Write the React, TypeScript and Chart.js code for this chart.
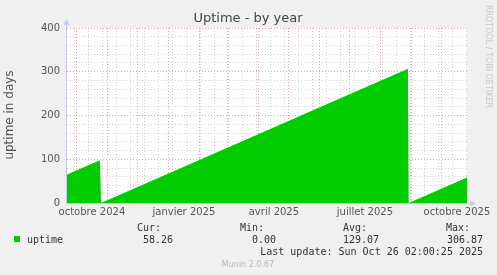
import React, { useEffect, useRef } from "react";
import { Chart, registerables } from "chart.js";

Chart.register(...registerables);

// ---- data ----
const GRAPH_END = "2025-10-26T02:00:25";
const RANGE_DAYS = 400;
const sampleTimes = [
  "2024-09-21T02:00:25",
  "2024-10-24T00:00:00",
  "2024-10-25T03:00:00",
  "2025-08-28T00:00:00",
  "2025-08-28T19:45:00",
  "2025-10-26T02:00:25",
];
const uptimeValues = [65.0, 97.9, 0, 306.87, 0, 58.26];
const xLabelTimes = ["2024-10-16", "2025-01-16", "2025-04-16", "2025-07-16", "2025-10-16"];
const xLabelTexts = ["octobre 2024", "janvier 2025", "avril 2025", "juillet 2025", "octobre 2025"];
const monthStarts = [
  "2024-10-01", "2024-11-01", "2024-12-01", "2025-01-01", "2025-02-01", "2025-03-01",
  "2025-04-01", "2025-05-01", "2025-06-01", "2025-07-01", "2025-08-01", "2025-09-01", "2025-10-01",
];
const minorStart = "2024-09-29";
const minorStepDays = 14;
const yMax = 400;
const yMinorStep = 20;
const yMajorStep = 100;
const seriesName = "uptime";
const statHeaders = ["Cur:", "Min:", "Avg:", "Max:"];
const statValues = ["58.26", "0.00", "129.07", "306.87"];
const lastUpdate = "Last update: Sun Oct 26 02:00:25 2025";
const titleText = "Uptime - by year";
const yTitle = "uptime in days";
const watermark = "RRDTOOL / TOBI OETIKER";
const footer = "Munin 2.0.67";

const endMs = Date.parse(GRAPH_END + "Z");
const startMs = endMs - RANGE_DAYS * 86400000;
const toDay = (s: string) => (Date.parse((s.length === 10 ? s + "T00:00:00" : s) + "Z") - startMs) / 86400000;

const GREEN = "#00cc00";
const RED_GRID = "rgba(230,150,150,0.85)";
const GREY_GRID = "rgba(195,195,195,0.75)";
const AXIS = "#c8c8f8";

export default function App() {
  const ref = useRef<HTMLCanvasElement | null>(null);

  useEffect(() => {
    document.body.style.margin = "0";
    const canvas = ref.current!;
    const points = sampleTimes.map((t, i) => ({ x: toDay(t), y: uptimeValues[i] }));

    const kind = new Map<number, string>();
    const labelText = new Map<number, string>();
    for (let d = toDay(minorStart); d < RANGE_DAYS; d += minorStepDays) kind.set(d, "minor");
    monthStarts.forEach((m) => kind.set(toDay(m), "major"));
    xLabelTimes.forEach((m, i) => {
      const v = toDay(m);
      kind.set(v, "label");
      labelText.set(v, xLabelTexts[i]);
    });

    const bgPlugin = {
      id: "bg",
      beforeDraw(chart: any) {
        const { ctx, chartArea: a } = chart;
        ctx.save();
        ctx.fillStyle = "#f0f0f0";
        ctx.fillRect(0, 0, chart.width, chart.height);
        ctx.fillStyle = "#ffffff";
        ctx.fillRect(a.left, a.top, a.right - a.left, a.bottom - a.top);
        ctx.restore();
      },
      afterDraw(chart: any) {
        const { ctx, chartArea: a } = chart;
        ctx.save();
        ctx.strokeStyle = AXIS;
        ctx.fillStyle = AXIS;
        ctx.lineWidth = 1;
        ctx.beginPath();
        ctx.moveTo(a.left - 0.5, a.bottom + 0.5);
        ctx.lineTo(a.left - 0.5, a.top - 4);
        ctx.moveTo(a.left - 0.5, a.bottom + 0.5);
        ctx.lineTo(a.right + 4, a.bottom + 0.5);
        ctx.stroke();
        ctx.beginPath();
        ctx.moveTo(a.left - 3.5, a.top - 3);
        ctx.lineTo(a.left + 2.5, a.top - 3);
        ctx.lineTo(a.left - 0.5, a.top - 9);
        ctx.closePath();
        ctx.fill();
        ctx.beginPath();
        ctx.moveTo(a.right + 3, a.bottom - 2.5);
        ctx.lineTo(a.right + 3, a.bottom + 3.5);
        ctx.lineTo(a.right + 9, a.bottom + 0.5);
        ctx.closePath();
        ctx.fill();

        ctx.fillStyle = "#444";
        ctx.font = "13px 'DejaVu Sans'";
        ctx.textAlign = "center";
        ctx.textBaseline = "middle";
        ctx.fillText(titleText, 248, 19);

        ctx.save();
        ctx.translate(10, 115);
        ctx.rotate(-Math.PI / 2);
        ctx.font = "12px 'DejaVu Sans'";
        ctx.fillStyle = "#555";
        ctx.fillText(yTitle, 0, 0);
        ctx.restore();

        ctx.save();
        ctx.translate(488, 5);
        ctx.rotate(Math.PI / 2);
        ctx.font = "8px 'DejaVu Sans'";
        ctx.fillStyle = "#c8c8c8";
        ctx.textAlign = "left";
        ctx.fillText(watermark, 0, 0);
        ctx.restore();

        ctx.fillStyle = GREEN;
        ctx.fillRect(14, 236, 6, 6);
        ctx.font = "10px 'DejaVu Sans Mono'";
        ctx.fillStyle = "#333";
        ctx.textAlign = "left";
        ctx.fillText(seriesName, 27, 240);
        const colRight = [161, 264, 367, 470];
        const valRight = [173, 276, 379, 483];
        ctx.textAlign = "right";
        statHeaders.forEach((h, i) => ctx.fillText(h, colRight[i], 228));
        statValues.forEach((v, i) => ctx.fillText(v, valRight[i], 240));
        ctx.fillText(lastUpdate, 483, 252);
        ctx.textAlign = "center";
        ctx.font = "8px 'DejaVu Sans'";
        ctx.fillStyle = "#bbb";
        ctx.fillText(footer, 248, 265);
        ctx.restore();
      },
    };

    const chart = new Chart(canvas, {
      type: "line",
      data: {
        datasets: [
          {
            label: seriesName,
            data: points,
            borderWidth: 0,
            borderColor: GREEN,
            backgroundColor: GREEN,
            fill: "origin",
            pointRadius: 0,
            tension: 0,
          },
        ],
      },
      options: {
        responsive: false,
        animation: false,
        events: [],
        layout: { padding: { left: 0, right: 30, top: 28, bottom: 52 } },
        plugins: { legend: { display: false }, tooltip: { enabled: false } },
        scales: {
          x: {
            type: "linear",
            min: 0,
            max: RANGE_DAYS,
            z: 1,
            border: { display: false, dash: [1, 2] },
            afterFit: (s: any) => {
              s.height = 20;
            },
            afterBuildTicks: (s: any) => {
              s.ticks = Array.from(kind.keys())
                .filter((v) => v >= 0 && v <= RANGE_DAYS)
                .sort((a, b) => a - b)
                .map((v) => ({ value: v }));
            },
            grid: {
              drawTicks: false,
              lineWidth: 1,
              color: (c: any) => {
                const k = kind.get(c.tick?.value);
                return k === "major" ? RED_GRID : k === "minor" ? GREY_GRID : "rgba(0,0,0,0)";
              },
            },
            ticks: {
              autoSkip: false,
              maxRotation: 0,
              padding: 3,
              color: "#555",
              font: { family: "DejaVu Sans", size: 10 },
              callback: (v: any) => labelText.get(v) ?? "",
            },
          },
          y: {
            min: 0,
            max: yMax,
            z: 1,
            border: { display: false, dash: [1, 2] },
            afterFit: (s: any) => {
              s.width = 67;
            },
            grid: {
              drawTicks: false,
              lineWidth: 1,
              color: (c: any) => (c.tick?.value % yMajorStep === 0 ? RED_GRID : GREY_GRID),
            },
            ticks: {
              stepSize: yMinorStep,
              autoSkip: false,
              padding: 7,
              color: "#555",
              font: { family: "DejaVu Sans", size: 10 },
              callback: (v: any) => (v % yMajorStep === 0 ? String(v) : ""),
            },
          },
        },
      },
      plugins: [bgPlugin],
    } as any);

    return () => chart.destroy();
  }, []);

  return (
    <div style={{ position: "absolute", left: 0, top: 0, width: 497, height: 275 }}>
      <canvas ref={ref} width={497} height={275} />
    </div>
  );
}
